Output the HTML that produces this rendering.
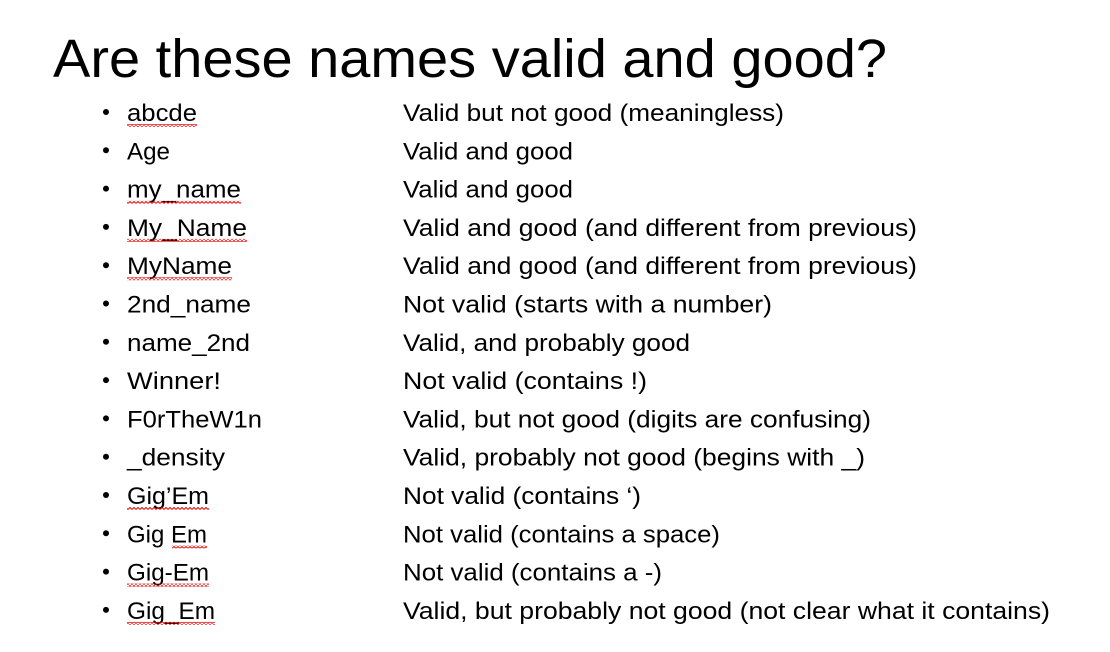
<!DOCTYPE html>
<html><head><meta charset="utf-8"><style>html,body{margin:0;padding:0;background:#fff}svg{display:block}</style></head>
<body>
<svg width="1110" height="652" xmlns="http://www.w3.org/2000/svg" font-family="Liberation Sans, sans-serif" fill="#000">
<defs>
<pattern id="sq" width="4" height="3" patternUnits="userSpaceOnUse">
<path d="M0 2.5 L2 0.5 L4 2.5" stroke="#e00" stroke-width="1" fill="none"/>
</pattern>
</defs>
<text x="53" y="77" font-size="54" textLength="834" lengthAdjust="spacingAndGlyphs">Are these names valid and good?</text>
<g font-size="24" lengthAdjust="spacingAndGlyphs">
<circle cx="106" cy="112" r="3"/><text x="127" y="121" textLength="70" lengthAdjust="spacingAndGlyphs">abcde</text><text x="403" y="121" textLength="381" lengthAdjust="spacingAndGlyphs">Valid but not good (meaningless)</text><rect x="127" y="124" width="70" height="3" fill="url(#sq)"/>
<circle cx="106" cy="150.3" r="3"/><text x="127" y="159.3" textLength="43" lengthAdjust="spacingAndGlyphs">Age</text><text x="403" y="159.3" textLength="170" lengthAdjust="spacingAndGlyphs">Valid and good</text>
<circle cx="106" cy="188.6" r="3"/><text x="127" y="197.6" textLength="114" lengthAdjust="spacingAndGlyphs">my_name</text><text x="403" y="197.6" textLength="170" lengthAdjust="spacingAndGlyphs">Valid and good</text><rect x="127" y="200.6" width="114" height="3" fill="url(#sq)"/>
<circle cx="106" cy="226.9" r="3"/><text x="127" y="235.9" textLength="120" lengthAdjust="spacingAndGlyphs">My_Name</text><text x="403" y="235.9" textLength="514" lengthAdjust="spacingAndGlyphs">Valid and good (and different from previous)</text><rect x="127" y="238.9" width="120" height="3" fill="url(#sq)"/>
<circle cx="106" cy="265.2" r="3"/><text x="127" y="274.2" textLength="105" lengthAdjust="spacingAndGlyphs">MyName</text><text x="403" y="274.2" textLength="514" lengthAdjust="spacingAndGlyphs">Valid and good (and different from previous)</text><rect x="127" y="277.2" width="105" height="3" fill="url(#sq)"/>
<circle cx="106" cy="303.5" r="3"/><text x="127" y="312.5" textLength="124" lengthAdjust="spacingAndGlyphs">2nd_name</text><text x="403" y="312.5" textLength="369" lengthAdjust="spacingAndGlyphs">Not valid (starts with a number)</text>
<circle cx="106" cy="341.8" r="3"/><text x="127" y="350.8" textLength="123" lengthAdjust="spacingAndGlyphs">name_2nd</text><text x="403" y="350.8" textLength="287" lengthAdjust="spacingAndGlyphs">Valid, and probably good</text>
<circle cx="106" cy="380.1" r="3"/><text x="127" y="389.1" textLength="94" lengthAdjust="spacingAndGlyphs">Winner!</text><text x="403" y="389.1" textLength="244" lengthAdjust="spacingAndGlyphs">Not valid (contains !)</text>
<circle cx="106" cy="418.4" r="3"/><text x="127" y="427.4" textLength="135" lengthAdjust="spacingAndGlyphs">F0rTheW1n</text><text x="403" y="427.4" textLength="468" lengthAdjust="spacingAndGlyphs">Valid, but not good (digits are confusing)</text>
<circle cx="106" cy="456.7" r="3"/><text x="127" y="465.7" textLength="98" lengthAdjust="spacingAndGlyphs">_density</text><text x="403" y="465.7" textLength="462" lengthAdjust="spacingAndGlyphs">Valid, probably not good (begins with _)</text>
<circle cx="106" cy="495" r="3"/><text x="127" y="504" textLength="82" lengthAdjust="spacingAndGlyphs">Gig’Em</text><text x="403" y="504" textLength="238" lengthAdjust="spacingAndGlyphs">Not valid (contains ‘)</text><rect x="127" y="507" width="82" height="3" fill="url(#sq)"/>
<circle cx="106" cy="533.3" r="3"/><text x="127" y="542.3" textLength="80" lengthAdjust="spacingAndGlyphs">Gig Em</text><text x="403" y="542.3" textLength="317" lengthAdjust="spacingAndGlyphs">Not valid (contains a space)</text><rect x="172" y="545.3" width="35" height="3" fill="url(#sq)"/>
<circle cx="106" cy="571.6" r="3"/><text x="127" y="580.6" textLength="82" lengthAdjust="spacingAndGlyphs">Gig-Em</text><text x="403" y="580.6" textLength="259" lengthAdjust="spacingAndGlyphs">Not valid (contains a -)</text><rect x="127" y="583.6" width="82" height="3" fill="url(#sq)"/>
<circle cx="106" cy="609.9" r="3"/><text x="127" y="618.9" textLength="88" lengthAdjust="spacingAndGlyphs">Gig_Em</text><text x="403" y="618.9" textLength="647" lengthAdjust="spacingAndGlyphs">Valid, but probably not good (not clear what it contains)</text><rect x="127" y="621.9" width="88" height="3" fill="url(#sq)"/>
</g>
</svg>
</body></html>
